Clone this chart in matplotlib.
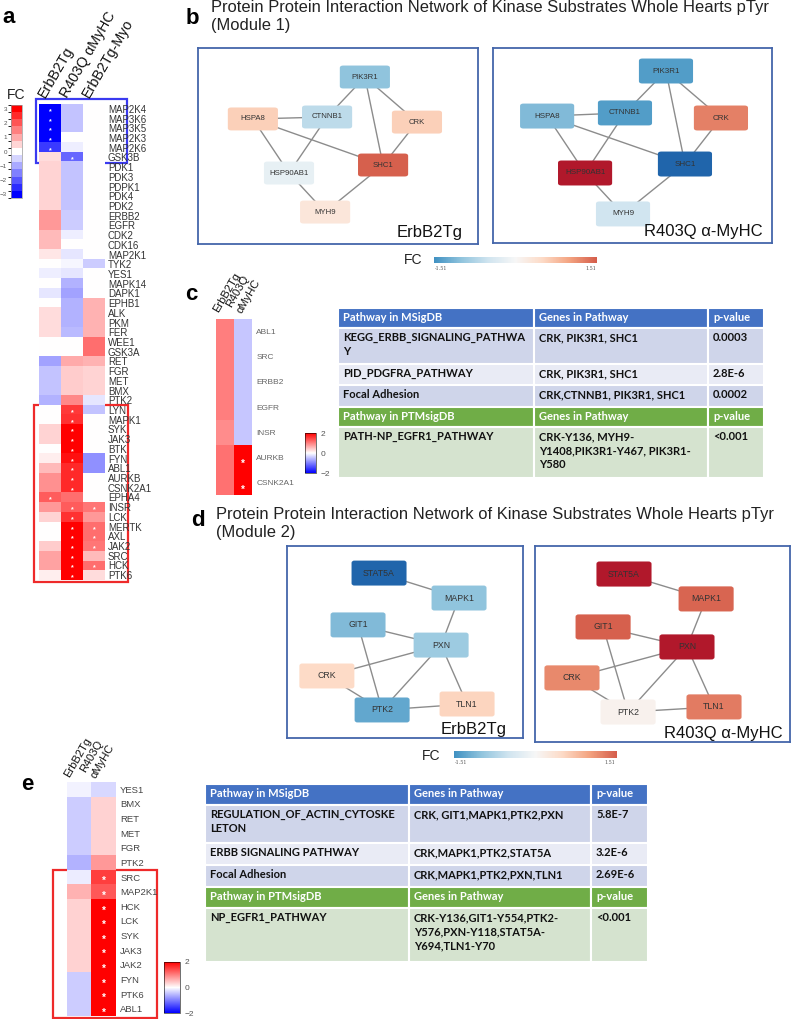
import numpy as np
import matplotlib
matplotlib.use("Agg")
import matplotlib.pyplot as plt
from matplotlib.colors import Normalize, BoundaryNorm
from matplotlib.cm import ScalarMappable
from matplotlib.patches import Rectangle, FancyBboxPatch

plt.rcParams["font.family"] = ["Liberation Sans", "DejaVu Sans"]

# ---------------- data: panel a (kinase heatmap) ----------------
a_genes = ['MAP2K4', 'MAP3K6', 'MAP3K5', 'MAP2K3', 'MAP2K6', 'GSK3B', 'PDK1', 'PDK3', 'PDPK1',
           'PDK4', 'PDK2', 'ERBB2', 'EGFR', 'CDK2', 'CDK16', 'MAP2K1', 'TYK2', 'YES1', 'MAPK14',
           'DAPK1', 'EPHB1', 'ALK', 'PKM', 'FER', 'WEE1', 'GSK3A', 'RET', 'FGR', 'MET', 'BMX',
           'PTK2', 'LYN', 'MAPK1', 'SYK', 'JAK3', 'BTK', 'FYN', 'ABL1', 'AURKB', 'CSNK2A1',
           'EPHA4', 'INSR', 'LCK', 'MERTK', 'AXL', 'JAK2', 'SRC', 'HCK', 'PTK6']
a_erbb2 = [-3.0, -3.0, -3.0, -3.0, -2.3, 0.4, 0.5, 0.5, 0.5, 0.5, 0.5, 1.2, 1.2, 0.8, 0.8, 0.3,
           0.0, -0.2, 0.0, -0.3, 0.0, 0.4, 0.4, 0.4, 0.0, 0.0, -1.1, -0.7, -0.7, -0.7, -0.9,
           0.0, 0.0, 0.5, 0.5, 0.0, 0.2, 0.8, 1.3, 1.3, 1.9, 1.2, 0.5, 0.0, 0.0, 0.6, 1.1, 1.1, 0.2]
a_r403q = [-0.7, -0.7, -0.7, 0.0, -0.2, -1.8, -0.7, -0.7, -0.7, -0.7, -0.7, -0.6, -0.6, -0.2,
           0.0, -0.3, -0.1, -0.3, -0.9, -1.1, -0.9, -0.9, -0.9, -0.8, 0.0, 0.0, 1.0, 0.6, 0.6,
           0.6, 1.4, 2.3, 2.4, 3.0, 3.0, 3.0, 2.8, 2.5, 2.5, 2.5, 1.7, 1.9, 2.4, 3.0, 3.0, 3.0,
           3.0, 3.0, 3.0]
a_myo = [0.0, 0.0, 0.0, 0.0, 0.0, 0.0, 0.0, 0.0, 0.0, 0.0, 0.0, 0.0, 0.0, 0.0, 0.0, 0.0, -0.6,
         0.0, 0.0, 0.0, 0.9, 0.9, 0.9, 0.9, 1.7, 1.7, 0.9, 0.5, 0.5, 0.5, -0.3, -0.7, 0.0, 0.0,
         0.0, 0.0, -1.3, -1.3, 0.0, 0.0, 0.0, 1.6, 1.2, 1.7, 1.7, 1.6, 0.8, 1.7, 0.4]
a_star_erbb2 = ['MAP2K4', 'MAP3K6', 'MAP3K5', 'MAP2K3', 'MAP2K6', 'EPHA4']
a_star_r403q = ['GSK3B', 'LYN', 'MAPK1', 'SYK', 'JAK3', 'BTK', 'FYN', 'ABL1', 'AURKB', 'CSNK2A1',
                'INSR', 'LCK', 'MERTK', 'AXL', 'JAK2', 'SRC', 'HCK', 'PTK6']
a_star_myo = ['INSR', 'MERTK', 'AXL', 'JAK2', 'HCK']
a_columns = ['ErbB2Tg', 'R403Q αMyHC', 'ErbB2Tg-Myo']

# ---------------- data: panel c ----------------
c_genes = ['ABL1', 'SRC', 'ERBB2', 'EGFR', 'INSR', 'AURKB', 'CSNK2A1']
c_erbb2 = [1.0, 1.0, 1.0, 1.0, 0.9, 1.1, 1.1]
c_r403q = [-0.45, -0.45, -0.45, -0.45, -0.45, 2.0, 2.0]
c_star_r403q = ['AURKB', 'CSNK2A1']
c_columns = ['ErbB2Tg', 'R403Q\nαMyHC']

# ---------------- data: panel e ----------------
e_genes = ['YES1', 'BMX', 'RET', 'MET', 'FGR', 'PTK2', 'SRC', 'MAP2K1', 'HCK', 'LCK', 'SYK',
           'JAK3', 'JAK2', 'FYN', 'PTK6', 'ABL1']
e_erbb2 = [-0.1, -0.4, -0.4, -0.4, -0.4, -0.6, -0.15, 0.6, 0.35, 0.35, 0.35, 0.35, 0.35,
           -0.4, -0.4, -0.4]
e_r403q = [-0.3, 0.35, 0.35, 0.35, 0.35, 0.8, 1.5, 1.3, 2.0, 2.0, 2.0, 2.0, 2.0, 2.0, 2.0, 2.0]
e_star_r403q = ['SRC', 'MAP2K1', 'HCK', 'LCK', 'SYK', 'JAK3', 'JAK2', 'FYN', 'PTK6', 'ABL1']
e_columns = ['ErbB2Tg', 'R403Q\nαMyHC']

# ---------------- data: networks (b, d) ----------------
b_nodes = ['PIK3R1', 'HSPA8', 'CTNNB1', 'CRK', 'SHC1', 'HSP90AB1', 'MYH9']
b_fc_erbb2 = [-1.0, 0.6, -0.65, 0.6, 1.5, -0.2, 0.3]
b_fc_r403q = [-1.4, -1.1, -1.4, 1.25, -2.0, 2.0, -0.5]
b_edges = [('PIK3R1', 'CTNNB1'), ('PIK3R1', 'SHC1'), ('PIK3R1', 'CRK'), ('HSPA8', 'CTNNB1'),
           ('HSPA8', 'SHC1'), ('HSPA8', 'HSP90AB1'), ('CTNNB1', 'HSP90AB1'), ('CRK', 'SHC1'),
           ('SHC1', 'MYH9'), ('HSP90AB1', 'MYH9')]

d_nodes = ['STAT5A', 'MAPK1', 'GIT1', 'PXN', 'CRK', 'PTK2', 'TLN1']
d_fc_erbb2 = [-2.0, -1.0, -1.1, -0.9, 0.5, -1.3, 0.55]
d_fc_r403q = [2.0, 1.45, 1.5, 2.0, 1.2, 0.1, 1.3]
d_edges = [('STAT5A', 'MAPK1'), ('MAPK1', 'PXN'), ('GIT1', 'PXN'), ('GIT1', 'PTK2'),
           ('CRK', 'PXN'), ('CRK', 'PTK2'), ('PXN', 'PTK2'), ('PXN', 'TLN1'), ('PTK2', 'TLN1')]

# ---------------- data: tables ----------------
c_table_rows = [
    ['Pathway in MSigDB', 'Genes in Pathway', 'p-value'],
    ['KEGG_ERBB_SIGNALING_PATHWA\nY', 'CRK, PIK3R1, SHC1', '0.0003'],
    ['PID_PDGFRA_PATHWAY', 'CRK, PIK3R1, SHC1', '2.8E-6'],
    ['Focal Adhesion', 'CRK,CTNNB1, PIK3R1, SHC1', '0.0002'],
    ['Pathway in PTMsigDB', 'Genes in Pathway', 'p-value'],
    ['PATH-NP_EGFR1_PATHWAY', 'CRK-Y136, MYH9-\nY1408,PIK3R1-Y467, PIK3R1-\nY580', '<0.001'],
]
e_table_rows = [
    ['Pathway in MSigDB', 'Genes in Pathway', 'p-value'],
    ['REGULATION_OF_ACTIN_CYTOSKE\nLETON', 'CRK, GIT1,MAPK1,PTK2,PXN', '5.8E-7'],
    ['ERBB SIGNALING PATHWAY', 'CRK,MAPK1,PTK2,STAT5A', '3.2E-6'],
    ['Focal Adhesion', 'CRK,MAPK1,PTK2,PXN,TLN1', '2.69E-6'],
    ['Pathway in PTMsigDB', 'Genes in Pathway', 'p-value'],
    ['NP_EGFR1_PATHWAY', 'CRK-Y136,GIT1-Y554,PTK2-\nY576,PXN-Y118,STAT5A-\nY694,TLN1-Y70', '<0.001'],
]

TITLE = 'Protein Protein Interaction Network of Kinase Substrates Whole Hearts pTyr'

# ---------------- figure ----------------
W, H = 791, 1019
fig = plt.figure(figsize=(W / 100, H / 100), dpi=100)

canvas = fig.add_axes([0, 0, 1, 1])
canvas.set_xlim(0, W)
canvas.set_ylim(H, 0)
canvas.axis('off')


def px_axes(x0, y0, x1, y1):
    # axes placed in pixel coordinates (origin top-left)
    return fig.add_axes([x0 / W, 1 - y1 / H, (x1 - x0) / W, (y1 - y0) / H])


bwr = plt.get_cmap('bwr')
node_cmap = plt.get_cmap('RdBu_r')
node_norm = Normalize(-2.5, 2.5)


def heatmap(box, genes, cols, stars, norm, fs, color, pad, star_fs):
    ax = px_axes(*box)
    data = np.column_stack(cols)
    ax.imshow(data, cmap=bwr, norm=norm, aspect='auto', interpolation='nearest')
    ax.set_xticks([])
    ax.set_yticks(range(len(genes)))
    ax.set_yticklabels(genes, fontsize=fs, color=color)
    ax.yaxis.tick_right()
    ax.tick_params(axis='y', length=0, pad=pad)
    for s in ax.spines.values():
        s.set_visible(False)
    for j, starred in enumerate(stars):
        for g in starred:
            ax.text(j, genes.index(g) + 0.28, '*', color='white', ha='center', va='center',
                    fontsize=star_fs, fontweight='bold')
    return ax


def col_labels(box, n, labels, fs, dxs, dy, ls=1.2):
    x0, y0, x1, y1 = box
    cw = (x1 - x0) / n
    for j, lab in enumerate(labels):
        canvas.text(x0 + (j + 0.5) * cw + dxs[j], y0 - dy, lab, rotation=60,
                    rotation_mode='anchor', ha='left', va='baseline', fontsize=fs,
                    color='#111', linespacing=ls)


# ---------------- panel a ----------------
canvas.text(9, 17, 'a', fontsize=16, fontweight='bold', ha='center', va='center')
box_a = (39, 104, 105, 580)
heatmap(box_a, a_genes, [a_erbb2, a_r403q, a_myo], [a_star_erbb2, a_star_r403q, a_star_myo],
        Normalize(-3, 3), 7, '#333333', 2, 5)
col_labels(box_a, 3, a_columns, 10.3, [-5, -5, -5], 6)
canvas.add_patch(Rectangle((36, 99), 91, 64, fill=False, ec='#3a3af0', lw=1.6))
canvas.add_patch(Rectangle((34, 405), 94, 177, fill=False, ec='#ee2a2a', lw=1.6))

cax = px_axes(11, 105, 22, 198)
step_norm = BoundaryNorm(np.arange(-3.25, 3.3, 0.5), 13)
cb = fig.colorbar(ScalarMappable(step_norm, bwr.resampled(13)), cax=cax, ticks=range(-3, 4))
cb.outline.set_edgecolor('#999999')
cb.outline.set_linewidth(0.5)
cax.yaxis.set_ticks_position('left')
cax.tick_params(length=0, labelsize=4.5, labelcolor='#555555', pad=3)
canvas.text(16, 95, 'FC', fontsize=10, ha='center', va='center', color='#222')


# ---------------- networks ----------------
def network(box, layout, nodes, fc, edges, size, label, lab_xy, node_fs):
    ax = px_axes(*box)
    ax.set_xlim(0, 1)
    ax.set_ylim(0, 1)
    ax.set_xticks([])
    ax.set_yticks([])
    for s in ax.spines.values():
        s.set_edgecolor('#4466aa')
        s.set_linewidth(1.3)
    for a, b in edges:
        ax.plot([layout[a][0], layout[b][0]], [layout[a][1], layout[b][1]],
                color='#8c8c8c', lw=1.0, zorder=1)
    w, h = size
    for name, v in zip(nodes, fc):
        x, y = layout[name]
        ax.add_patch(FancyBboxPatch((x - w / 2, y - h / 2), w, h,
                                    boxstyle='round,pad=0,rounding_size=0.012',
                                    fc=node_cmap(node_norm(v)), ec='none', zorder=2))
        ax.text(x, y, name, ha='center', va='center', fontsize=node_fs, color='#333333',
                zorder=3)
    ax.text(lab_xy[0], lab_xy[1], label, ha='right', va='baseline', fontsize=12, color='#111',
            transform=ax.transAxes)


def fc_bar(xf, yf, x0, x1, y0, y1):
    canvas.text(xf, yf, 'FC', fontsize=10, ha='center', va='center', color='#222')
    ax = px_axes(x0, y0, x1, y1)
    ax.imshow(np.linspace(-1.51, 1.51, 256)[None, :], cmap=node_cmap, norm=node_norm,
              aspect='auto', extent=(-1.51, 1.51, 0, 1))
    ax.set_xticks([])
    ax.set_yticks([])
    for s in ax.spines.values():
        s.set_visible(False)
    canvas.text(x0 + 1, y1 + 5, '-1.51', fontsize=3.5, family='DejaVu Serif', color='#555',
                ha='left', va='center')
    canvas.text(x1 - 1, y1 + 5, '1.51', fontsize=3.5, family='DejaVu Serif', color='#555',
                ha='right', va='center')


# panel b
canvas.text(192, 18, 'b', fontsize=16, fontweight='bold', ha='center', va='center')
canvas.text(211, 7, TITLE, fontsize=11.9, ha='left', va='center', color='#222')
canvas.text(211, 25, '(Module 1)', fontsize=11.9, ha='left', va='center', color='#222')

b_layout_l = {'PIK3R1': (0.596, 0.852), 'HSPA8': (0.196, 0.638), 'CTNNB1': (0.461, 0.648),
              'CRK': (0.782, 0.622), 'SHC1': (0.661, 0.403), 'HSP90AB1': (0.325, 0.362),
              'MYH9': (0.454, 0.163)}
b_layout_r = {'PIK3R1': (0.620, 0.882), 'HSPA8': (0.194, 0.651), 'CTNNB1': (0.473, 0.667),
              'CRK': (0.817, 0.641), 'SHC1': (0.688, 0.405), 'HSP90AB1': (0.330, 0.359),
              'MYH9': (0.466, 0.149)}
network((198, 48, 478, 244), b_layout_l, b_nodes, b_fc_erbb2, b_edges, (0.179, 0.117),
        'ErbB2Tg', (0.946, 0.035), 5.6)
network((493, 48, 772, 243), b_layout_r, b_nodes, b_fc_r403q, b_edges, (0.194, 0.128),
        'R403Q α-MyHC', (0.968, 0.035), 5.8)
fc_bar(413, 260, 434, 597, 257, 263)

# panel d
canvas.text(198, 520, 'd', fontsize=16, fontweight='bold', ha='center', va='center')
canvas.text(216, 515, TITLE, fontsize=11.9, ha='left', va='center', color='#222')
canvas.text(216, 533, '(Module 2)', fontsize=11.9, ha='left', va='center', color='#222')

d_layout_l = {'STAT5A': (0.390, 0.859), 'MAPK1': (0.729, 0.729), 'GIT1': (0.301, 0.589),
              'PXN': (0.653, 0.484), 'CRK': (0.169, 0.323), 'PTK2': (0.403, 0.146),
              'TLN1': (0.763, 0.177)}
d_layout_r = {'STAT5A': (0.349, 0.857), 'MAPK1': (0.671, 0.730), 'GIT1': (0.267, 0.587),
              'PXN': (0.596, 0.485), 'CRK': (0.145, 0.327), 'PTK2': (0.365, 0.153),
              'TLN1': (0.702, 0.179)}
network((287, 546, 523, 738), d_layout_l, d_nodes, d_fc_erbb2, d_edges, (0.233, 0.13),
        'ErbB2Tg', (0.932, 0.02), 6.3)
network((535, 546, 790, 742), d_layout_r, d_nodes, d_fc_r403q, d_edges, (0.216, 0.128),
        'R403Q α-MyHC', (0.973, 0.02), 6.3)
fc_bar(431, 756, 454, 616, 751, 758)

# ---------------- panel c ----------------
canvas.text(191, 295, 'c', fontsize=16, fontweight='bold', ha='center', va='center')
box_c = (216, 319, 252, 495)
heatmap(box_c, c_genes, [c_erbb2, c_r403q], [[], c_star_r403q], Normalize(-2, 2), 6,
        '#666666', 3, 7)
col_labels(box_c, 2, c_columns, 8, [-7, -3], 6, 1.25)
cax_c = px_axes(305, 433, 316, 473)
cb_c = fig.colorbar(ScalarMappable(Normalize(-2, 2), bwr), cax=cax_c, ticks=[-2, 0, 2])
cb_c.outline.set_linewidth(0.4)
cax_c.tick_params(length=0, labelsize=6, labelcolor='#555555', pad=3)

# ---------------- panel e ----------------
canvas.text(27, 785, 'e', fontsize=16, fontweight='bold', ha='center', va='center')
box_e = (67, 782, 116, 1016)
heatmap(box_e, e_genes, [e_erbb2, e_r403q], [[], e_star_r403q], Normalize(-2, 2), 6.8,
        '#444444', 3, 7)
col_labels(box_e, 2, e_columns, 8, [-10, -10], 4, 1.3)
canvas.add_patch(Rectangle((53, 870), 104, 148, fill=False, ec='#ee2a2a', lw=1.6))
cax_e = px_axes(164, 962, 180, 1013)
cb_e = fig.colorbar(ScalarMappable(Normalize(-2, 2), bwr), cax=cax_e, ticks=[-2, 0, 2])
cb_e.outline.set_linewidth(0.4)
cax_e.tick_params(length=0, labelsize=6, labelcolor='#555555', pad=3)


# ---------------- tables ----------------
def table(x0, y0, col_w, row_h, rows):
    fills = ['#4472C4', '#CFD5EA', '#E9EBF5', '#CFD5EA', '#70AD47', '#D5E3CF']
    tcol = ['white', '#111', '#111', '#111', 'white', '#111']
    y = y0
    for r, cells in enumerate(rows):
        x = x0
        for c, txt in enumerate(cells):
            canvas.add_patch(Rectangle((x, y), col_w[c], row_h[r], fc=fills[r], ec='white',
                                       lw=1.5))
            canvas.text(x + 5, y + 4, txt, ha='left', va='top', fontsize=8, fontweight='bold',
                        color=tcol[r], family=['Lato', 'DejaVu Sans'], linespacing=1.35)
            x += col_w[c]
        y += row_h[r]


table(338, 308, [196, 174, 56], [20, 36, 21, 22, 20, 51], c_table_rows)
table(205, 784, [204, 182, 57], [21, 38, 22, 22, 21, 54], e_table_rows)

fig.savefig('out.png', dpi=100)
